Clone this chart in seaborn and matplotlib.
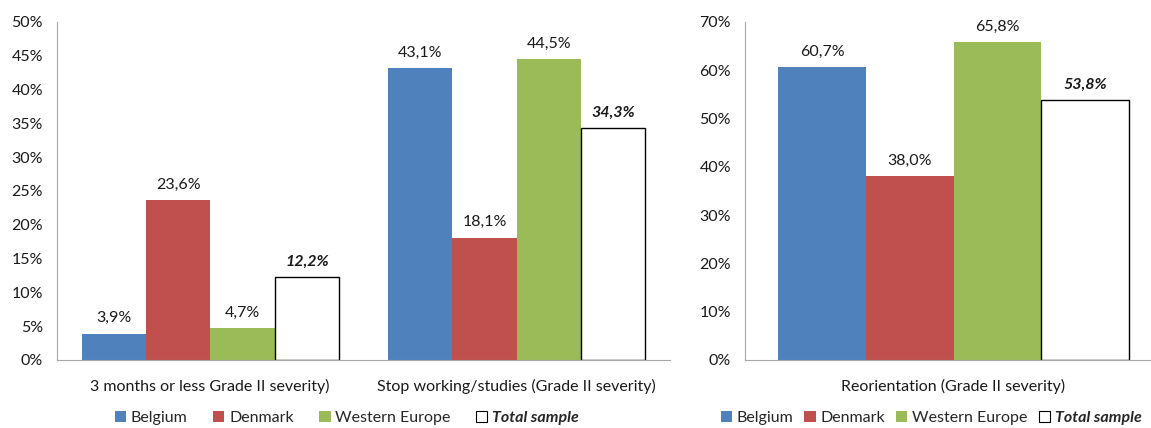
import matplotlib.pyplot as plt
import seaborn as sns
import pandas as pd
from matplotlib.patches import Patch
from matplotlib.ticker import FuncFormatter

regions = ["Belgium", "Denmark", "Western Europe", "Total sample"]
colors = ["#4F81BD", "#C0504D", "#9BBB59", "#FFFFFF"]

left_cats = ["3 months or less Grade II severity)", "Stop working/studies (Grade II severity)"]
left_vals = {
    "Belgium": [3.9, 43.1],
    "Denmark": [23.6, 18.1],
    "Western Europe": [4.7, 44.5],
    "Total sample": [12.2, 34.3],
}

right_cats = ["Reorientation (Grade II severity)"]
right_vals = {
    "Belgium": [60.7],
    "Denmark": [38.0],
    "Western Europe": [65.8],
    "Total sample": [53.8],
}

sns.set_style("white")
plt.rcParams["font.family"] = ["Lato", "DejaVu Sans"]
plt.rcParams["font.size"] = 11.5


def to_frame(cats, vals):
    rows = []
    for r in regions:
        for c, v in zip(cats, vals[r]):
            rows.append({"category": c, "region": r, "value": v})
    return pd.DataFrame(rows)


def fmt(v):
    return f"{v:.1f}%".replace(".", ",")


def draw(ax, cats, vals, ymax, step, leg_x, colsp):
    df = to_frame(cats, vals)
    sns.barplot(data=df, x="category", y="value", hue="region", hue_order=regions,
                palette=colors, width=0.84, gap=0, ax=ax, legend=False,
                saturation=1, edgecolor="none")
    for bar in ax.containers[3]:
        bar.set_edgecolor("black")
        bar.set_linewidth(1.0)
    for i, cont in enumerate(ax.containers):
        if i == 3:
            ax.bar_label(cont, labels=[fmt(v) for v in cont.datavalues], padding=6,
                         fontweight="bold", fontstyle="italic", color="#1a1a1a")
        else:
            ax.bar_label(cont, labels=[fmt(v) for v in cont.datavalues], padding=6,
                         color="#1a1a1a")
    ax.set_ylim(0, ymax)
    ax.set_yticks(range(0, ymax + 1, step))
    ax.yaxis.set_major_formatter(FuncFormatter(lambda v, p: f"{int(v)}%"))
    ax.set_xlabel("")
    ax.set_ylabel("")
    for s in ["top", "right"]:
        ax.spines[s].set_visible(False)
    for s in ["left", "bottom"]:
        ax.spines[s].set_color("#a6a6a6")
    ax.tick_params(axis="both", length=0, colors="#1a1a1a", labelsize=11.5)
    ax.tick_params(axis="x", pad=14)
    ax.tick_params(axis="y", pad=10)
    handles = [Patch(facecolor=c, edgecolor="black" if r == "Total sample" else c,
                     linewidth=0.8 if r == "Total sample" else 0) for r, c in zip(regions, colors)]
    leg = ax.legend(handles, regions, ncol=4, loc="center", bbox_to_anchor=(leg_x, -0.172),
                    frameon=False, handlelength=0.7, handleheight=0.7, handletextpad=0.3,
                    columnspacing=colsp, fontsize=11.5, borderaxespad=0, borderpad=0)
    leg.get_texts()[3].set_fontweight("bold")
    leg.get_texts()[3].set_fontstyle("italic")


fig = plt.figure(figsize=(11.51, 4.28), dpi=100)
ax1 = fig.add_axes([57 / 1151, 0.159, 613 / 1151, 0.79])
ax2 = fig.add_axes([745 / 1151, 0.159, 417 / 1151, 0.79])

draw(ax1, left_cats, left_vals, 50, 5, 0.473, 1.6)
draw(ax2, right_cats, right_vals, 70, 10, 0.446, 0.7)

fig.savefig("out.png", dpi=100)
